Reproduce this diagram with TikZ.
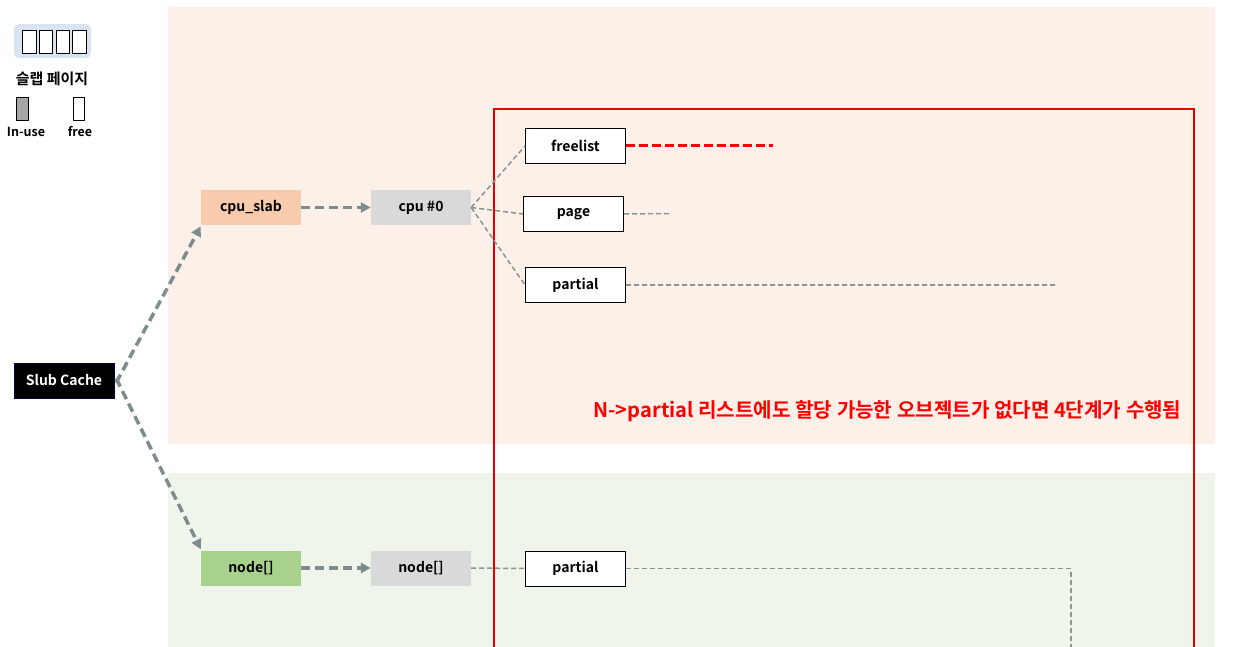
\documentclass[tikz,border=0pt]{standalone}
\usepackage{fontspec}
\setmainfont{Noto Sans CJK KR}[BoldFont={Noto Sans CJK KR Bold}]
\usetikzlibrary{arrows.meta}
\definecolor{pinkbg}{HTML}{FDF0E8}
\definecolor{greenbg}{HTML}{EFF5EA}
\definecolor{legbg}{HTML}{DCE3F0}
\definecolor{arrgray}{HTML}{7F8C8D}
\definecolor{thingray}{HTML}{8C9490}
\definecolor{cpuslab}{HTML}{F8CBAD}
\definecolor{greybox}{HTML}{D9D9D9}
\definecolor{nodegreen}{HTML}{A9D18E}
\definecolor{redc}{HTML}{FF0000}
\tikzset{
  box/.style={minimum width=100pt,minimum height=35pt,inner sep=0pt,font=\fontsize{14}{16}\selectfont\bfseries},
  wbox/.style={box,draw=black,line width=1pt,fill=white},
  bigarrow/.style={draw=arrgray,line width=3.5pt,dash pattern=on 9pt off 5pt,-{Triangle[length=10pt,width=10pt]}},
  thin/.style={draw=thingray,line width=1.5pt,dash pattern=on 5pt off 3pt},
  cell/.style={draw=black,line width=0.8pt,fill=white}
}
\begin{document}
\begin{tikzpicture}[x=1pt,y=-1pt]
\useasboundingbox (0,0) rectangle (1236,647);
\fill[white] (0,0) rectangle (1236,647);
% backgrounds
\fill[pinkbg] (168,7) rectangle (1215,444);
\fill[greenbg] (168,473) rectangle (1215,647);
% legend
\fill[legbg,rounded corners=5pt] (14,24) rectangle (91,58);
\foreach \x in {22.7,39.3,56,72.7}{\draw[cell] (\x,30) rectangle ++(13.3,23);}
\node[font=\fontsize{15}{17}\selectfont\bfseries] (legtitle) at (52,78.5) {슬랩 페이지};
\draw[black,line width=0.8pt,fill=gray!70] (16,97) rectangle (28,120);
\draw[cell] (73,97) rectangle (84,120);
\node[font=\fontsize{12.5}{14}\selectfont\bfseries] (inuse) at (26,132) {In-use};
\node[font=\fontsize{12.5}{14}\selectfont\bfseries] (free) at (80,132) {free};
% red frame
\draw[redc!90!black,line width=2pt] (494,647) -- (494,109) -- (1194,109) -- (1194,647);
% nodes
\node[box,fill=black,draw=blue!30!black,text=white] (slub) at (64,380.5) {Slub Cache};
\node[box,fill=cpuslab] (cpuslab) at (251,207.5) {cpu\_slab};
\node[box,fill=greybox] (cpu0) at (421,207.5) {cpu \#0};
\node[box,fill=nodegreen] (nodeA) at (251,568) {node[]};
\node[box,fill=greybox] (nodeB) at (421,568) {node[]};
\node[wbox] (freelist) at (575.5,146) {freelist};
\node[wbox] (page) at (573.5,214) {page};
\node[wbox] (partial) at (575.5,285) {partial};
\node[wbox] (npartial) at (575.5,568.5) {partial};
\coordinate (fl) at (773,146);
\coordinate (pg) at (669,213.5);
\coordinate (pt) at (1058,285);
\coordinate (np1) at (1071,568.5);
\coordinate (np2) at (1071,647);
% big arrows
\draw[bigarrow] ([xshift=2pt,yshift=-2pt]slub.east) -- ([yshift=-1pt]cpuslab.south west);
\draw[bigarrow] ([xshift=2pt,yshift=2pt]slub.east) -- ([yshift=1pt]nodeA.north west);
\draw[bigarrow] (cpuslab.east) -- (cpu0.west);
\draw[bigarrow] (nodeA.east) -- (nodeB.west);
% thin dashed
\draw[thin] (cpu0.east) -- (freelist.west);
\draw[thin] (cpu0.east) -- (page.west);
\draw[thin] (cpu0.east) -- (partial.west);
\draw[thin] (page.east) -- (pg);
\draw[thin] (partial.east) -- (pt);
\draw[thin] (nodeB.east) -- (npartial.west);
\draw[thin] (npartial.east) -- (np1) -- (np2);
\draw[redc,line width=3pt,dash pattern=on 9pt off 4pt] (freelist.east) -- (fl);
% red text
\node[anchor=east,text=redc,font=\fontsize{20.1}{22}\selectfont\bfseries] (msg) at (1185,411) {N->partial 리스트에도 할당 가능한 오브젝트가 없다면 4단계가 수행됨};
\end{tikzpicture}
\end{document}
